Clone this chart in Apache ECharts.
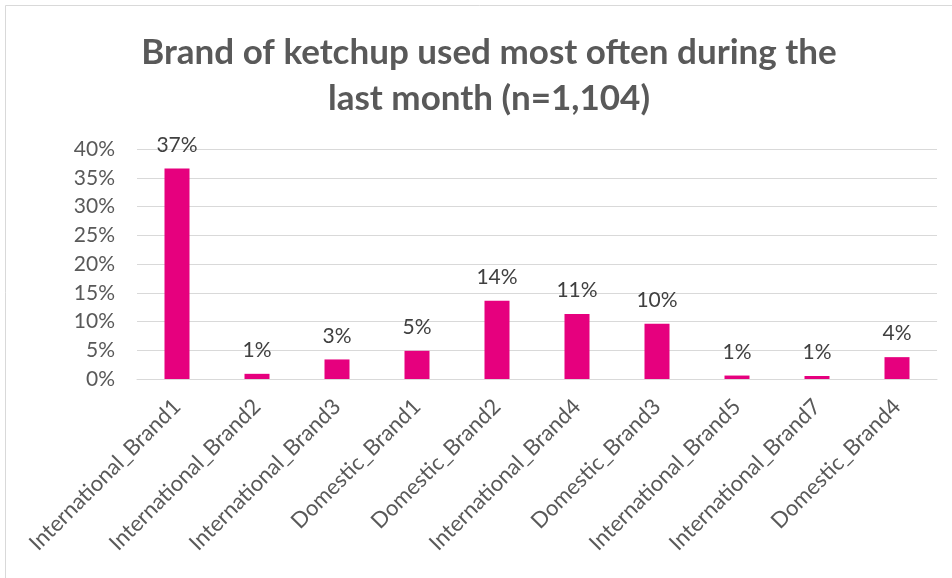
<!DOCTYPE html>
<html>
<head>
<meta charset="utf-8">
<title>Brand of ketchup used most often during the last month</title>
<script src="https://cdn.jsdelivr.net/npm/echarts@6/dist/echarts.min.js"></script>
<style>
  html, body { margin: 0; padding: 0; background: #ffffff; }
  #chart { width: 952px; height: 578px; }
</style>
</head>
<body>
<div id="chart"></div>
<script>
// Survey results: share of respondents by brand (percent)
const brands = [
  'International_Brand1', 'International_Brand2', 'International_Brand3',
  'Domestic_Brand1', 'Domestic_Brand2', 'International_Brand4',
  'Domestic_Brand3', 'International_Brand5', 'International_Brand7',
  'Domestic_Brand4'
];
const shares = [36.6, 0.9, 3.4, 4.9, 13.6, 11.3, 9.6, 0.6, 0.52, 3.8];

const titleLines = ['Brand of ketchup used most often during the', 'last month (n=1,104)'];
const yMin = 0, yMax = 40, yStep = 5;

const FONT = 'Lato, "Open Sans", sans-serif';
const GREY = '#595959';

const chart = echarts.init(document.getElementById('chart'), null, { renderer: 'canvas' });

chart.setOption({
  backgroundColor: '#ffffff',
  animation: false,
  graphic: [{
    type: 'rect',
    silent: true,
    shape: { x: 5.5, y: 5.5, width: 1200, height: 1200 },
    style: { fill: 'none', stroke: '#d9d9d9', lineWidth: 1 }
  }],
  title: {
    text: titleLines.join('\n'),
    left: 484,
    textAlign: 'center',
    top: 25,
    textStyle: {
      fontFamily: FONT,
      fontWeight: 'bold',
      fontSize: 35,
      lineHeight: 46,
      color: GREY
    }
  },
  grid: { left: 137, right: 15, top: 149, bottom: 199, containLabel: false },
  xAxis: {
    type: 'category',
    data: brands,
    axisLine: { show: true, lineStyle: { color: '#d9d9d9', width: 1 } },
    axisTick: { show: false },
    axisLabel: {
      rotate: 45,
      interval: 0,
      margin: 24,
      fontFamily: FONT,
      fontSize: 22,
      color: GREY
    }
  },
  yAxis: {
    type: 'value',
    min: yMin,
    max: yMax,
    interval: yStep,
    axisLine: { show: false },
    axisTick: { show: false },
    splitLine: { show: true, lineStyle: { color: '#d9d9d9', width: 1 } },
    axisLabel: {
      margin: 22,
      fontFamily: FONT,
      fontSize: 21,
      color: GREY,
      formatter: '{value}%'
    }
  },
  series: [{
    type: 'bar',
    data: shares,
    barWidth: 25,
    itemStyle: { color: '#e6007e' },
    label: {
      show: true,
      position: 'top',
      distance: 13,
      fontFamily: FONT,
      fontSize: 21,
      color: '#404040',
      formatter: p => Math.round(p.value) + '%'
    }
  }]
});
</script>
</body>
</html>
